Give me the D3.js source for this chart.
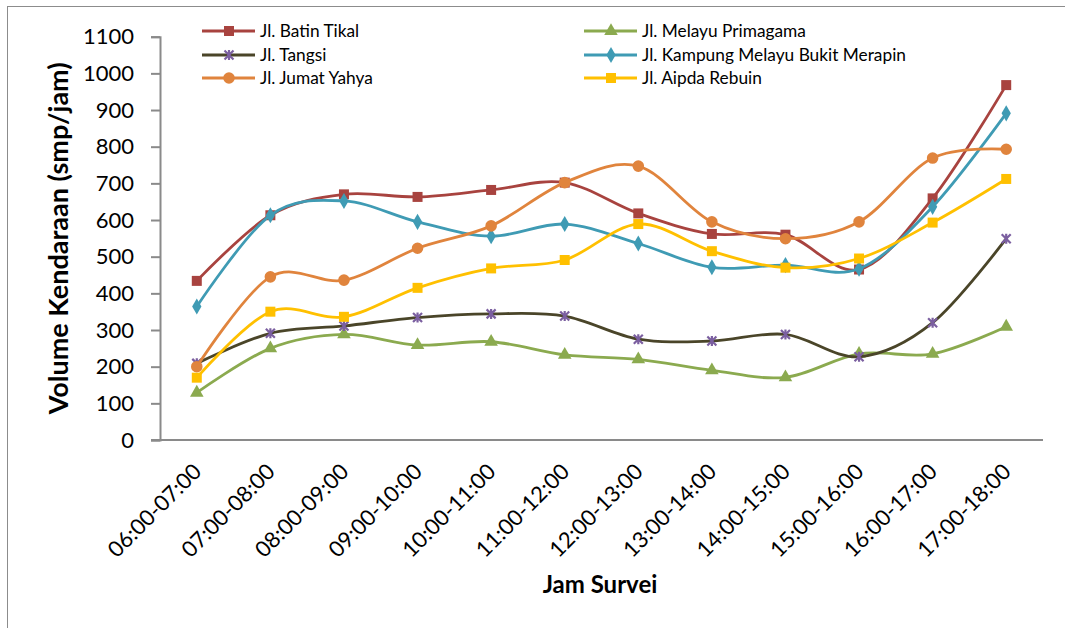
<!DOCTYPE html>
<html>
<head>
<meta charset="utf-8">
<script src="https://cdn.jsdelivr.net/npm/d3@7"></script>
<style>
  html, body { margin: 0; padding: 0; background: #ffffff; }
  svg { display: block; font-family: Lato, "Open Sans", sans-serif; }
</style>
</head>
<body>
<svg id="chart" width="1065" height="628"></svg>
<script>
// ---- data ----
const categories = ["06:00-07:00","07:00-08:00","08:00-09:00","09:00-10:00","10:00-11:00","11:00-12:00",
                    "12:00-13:00","13:00-14:00","14:00-15:00","15:00-16:00","16:00-17:00","17:00-18:00"];
const seriesNames = ["Jl. Batin Tikal","Jl. Melayu Primagama","Jl. Tangsi",
                     "Jl. Kampung Melayu Bukit Merapin","Jl. Jumat Yahya","Jl. Aipda Rebuin"];
const batinTikal      = [434, 613, 670, 663, 682, 702, 618, 562, 560, 465, 659, 968];
const melayuPrimagama = [129, 250, 288, 259, 268, 232, 220, 190, 171, 235, 235, 309];
const tangsi          = [209, 291, 311, 334, 344, 338, 275, 270, 288, 227, 320, 549];
const kampungMelayu   = [364, 613, 652, 595, 556, 589, 536, 471, 477, 467, 636, 891];
const jumatYahya      = [200, 445, 436, 523, 584, 702, 747, 595, 549, 595, 769, 793];
const aipdaRebuin     = [170, 350, 336, 415, 468, 491, 589, 515, 470, 495, 593, 712];
const yTicks = [0,100,200,300,400,500,600,700,800,900,1000,1100];

const seriesValues = [batinTikal, melayuPrimagama, tangsi, kampungMelayu, jumatYahya, aipdaRebuin];
const lineColors   = ["#A8433F", "#8BAA4F", "#4A4529", "#3F9BB4", "#E0843D", "#FFC000"];
const markerColors = ["#A8433F", "#8BAA4F", "#7B5FA0", "#3F9BB4", "#E0843D", "#FFC000"];
const markerTypes  = ["square", "triangle", "star", "diamond", "circle", "square"];

// ---- layout ----
const svg = d3.select("#chart");
const plot = { left: 160, right: 1043, top: 36.7, bottom: 440 };

const x = d3.scaleBand().domain(categories).range([plot.left, plot.right]);
const y = d3.scaleLinear().domain([0, 1100]).range([plot.bottom, plot.top]);
const cx = c => x(c) + x.bandwidth() / 2;

// chart border (left/top visible)
svg.append("rect").attr("x", 7.5).attr("y", 6.5).attr("width", 1200).attr("height", 800)
  .attr("fill", "none").attr("stroke", "#8c8c8c").attr("stroke-width", 1);

// Y axis
const yAxis = d3.axisLeft(y).tickValues(yTicks).tickSize(9).tickPadding(17).tickFormat(d3.format("d"));
const gy = svg.append("g").attr("transform", `translate(${plot.left},0)`).call(yAxis);
gy.select(".domain").attr("stroke", "#8a8a8a").attr("stroke-width", 2);
gy.selectAll(".tick line").attr("stroke", "#8a8a8a").attr("stroke-width", 2);
gy.selectAll(".tick text").attr("fill", "#000").style("font-size", "22px").style("font-family", "Lato");

// X axis
const xAxis = d3.axisBottom(x).tickSize(0).tickSizeOuter(0).tickFormat(d => d);
const gx = svg.append("g").attr("transform", `translate(0,${plot.bottom})`).call(xAxis);
gx.select(".domain").attr("stroke", "#8a8a8a").attr("stroke-width", 2)
  .attr("d", `M${plot.left - 9},0H${plot.right}`);
gx.selectAll(".tick text")
  .attr("fill", "#000").style("font-size", "22px").style("font-family", "Lato")
  .attr("text-anchor", "end")
  .attr("dy", "0")
  .attr("transform", "translate(6,33) rotate(-45)")
  .attr("y", 0).attr("x", 0);

// series
const symbolFor = t => {
  if (t === "square") return d3.symbol().type(d3.symbolSquare).size(100);
  if (t === "triangle") return d3.symbol().type(d3.symbolTriangle).size(80);
  if (t === "diamond") return d3.symbol().type(d3.symbolDiamond).size(75);
  if (t === "circle") return d3.symbol().type(d3.symbolCircle).size(105);
  return d3.symbol().type(d3.symbolCross).size(80);
};

const line = d3.line().x((d, i) => cx(categories[i])).y(d => y(d)).curve(d3.curveCatmullRom.alpha(0));

function drawMarker(g, t, color, px, py) {
  if (t === "star") {
    const s = 4.5;
    g.append("path")
      .attr("d", `M${px - s},${py - s}L${px + s},${py + s}M${px - s},${py + s}L${px + s},${py - s}M${px},${py - s - 0.5}L${px},${py + s + 0.5}`)
      .attr("stroke", color).attr("stroke-width", 2.2).attr("fill", "none");
  } else {
    g.append("path").attr("d", symbolFor(t)())
      .attr("transform", `translate(${px},${py})`)
      .attr("fill", color);
  }
}

seriesValues.forEach((vals, si) => {
  const g = svg.append("g");
  g.append("path").datum(vals).attr("d", line)
    .attr("fill", "none").attr("stroke", lineColors[si]).attr("stroke-width", 2.8)
    .attr("stroke-linejoin", "round").attr("stroke-linecap", "round");
  vals.forEach((v, i) => drawMarker(g, markerTypes[si], markerColors[si], cx(categories[i]), y(v)));
});

// legend
const legendCols = [202, 584];
const legendRows = [31, 55, 78];
seriesNames.forEach((name, si) => {
  const col = si % 2, row = Math.floor(si / 2);
  const lx = legendCols[col], ly = legendRows[row];
  const g = svg.append("g");
  g.append("line").attr("x1", lx).attr("x2", lx + 53).attr("y1", ly).attr("y2", ly)
    .attr("stroke", lineColors[si]).attr("stroke-width", 3);
  drawMarker(g, markerTypes[si], markerColors[si], lx + 27, ly);
  g.append("text").attr("x", lx + 58).attr("y", ly + 6).text(name)
    .style("font-size", "17.3px").style("font-family", "Lato").attr("fill", "#000");
});

// axis titles
svg.append("text")
  .attr("transform", `translate(68,${(plot.top + plot.bottom) / 2}) rotate(-90)`)
  .attr("text-anchor", "middle").style("font-weight", "bold").style("font-size", "27px")
  .style("font-family", "Lato").text("Volume Kendaraan (smp/jam)");
svg.append("text")
  .attr("x", 600).attr("y", 593)
  .attr("text-anchor", "middle").style("font-weight", "bold").style("font-size", "24px")
  .style("font-family", "Lato").text("Jam Survei");
</script>
</body>
</html>
